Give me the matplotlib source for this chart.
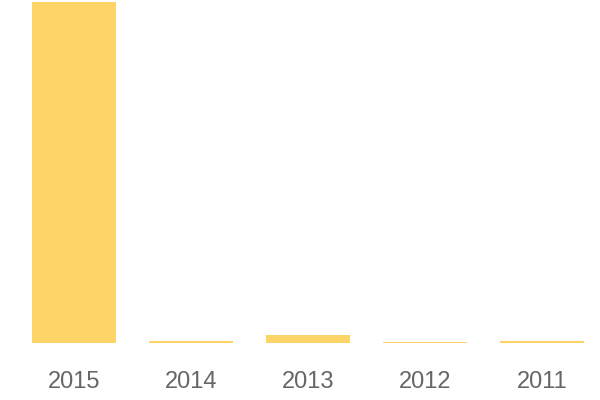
import matplotlib
matplotlib.use('Agg')
import matplotlib.pyplot as plt

years = ['2015', '2014', '2013', '2012', '2011']
values = [1000, 6, 23, 3, 5]

bar_color = '#FFD466'
label_color = '#666666'

fig = plt.figure(figsize=(6, 4), dpi=100)
ax = fig.add_axes([15.5 / 600, 57 / 400, 585 / 600, 341 / 400])

ax.bar(range(len(years)), values, width=0.72, color=bar_color)
ax.set_xlim(-0.5, len(years) - 0.5)
ax.set_ylim(0, max(values))

ax.set_xticks(range(len(years)))
ax.set_xticklabels(years, fontsize=17, color=label_color, family='Liberation Sans')
ax.tick_params(axis='x', length=0, pad=20)
ax.set_yticks([])
for s in ax.spines.values():
    s.set_visible(False)

fig.savefig('out.png', dpi=100)
